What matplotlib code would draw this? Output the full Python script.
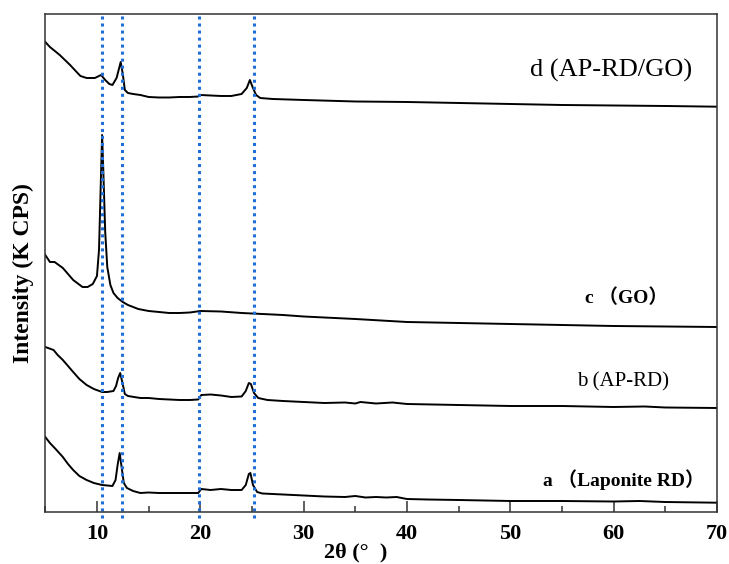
import matplotlib
matplotlib.use('Agg')
import matplotlib.pyplot as plt
from matplotlib.ticker import MultipleLocator

# 2theta (deg) and intensity (arb. units)
a_x = [5, 5.45, 6, 6.7, 7.2, 7.7, 8.3, 9, 9.7, 10.5, 11, 11.5, 11.8, 12.0, 12.2, 12.4, 12.6, 12.9,
       13.5, 14.2, 15, 16, 17, 18, 19, 19.8, 20.1, 21, 22, 23, 24, 24.4, 24.7, 24.85, 25.1, 25.5, 26, 28,
       30, 32, 34, 35, 36, 37, 38, 39, 40, 42, 45, 50, 55, 60, 62.5, 65, 70]
a_y = [75, 69, 63, 55, 48, 42, 36, 32, 29, 27, 26.5, 26, 32, 47, 59, 44, 29, 24,
       21, 19, 19.5, 19, 19, 19, 19, 19, 23, 22, 23, 22, 22, 27, 38, 39, 27, 20, 18.5, 17.5,
       16.5, 15.5, 15, 16, 14.5, 15, 14.5, 15, 13, 12.5, 12, 11, 11, 10.5, 11, 10, 9.3]

b_x = [5, 5.8, 6.2, 6.7, 7.2, 7.7, 8.3, 9, 9.7, 10.5, 11, 11.6, 11.85, 12.05, 12.25, 12.45, 12.7, 13,
       14.2, 15, 16, 17, 18, 19, 19.8, 20.1, 21, 22, 23, 24, 24.4, 24.7, 24.9, 25.2, 25.6, 26.5, 28, 30,
       32, 34, 35, 35.5, 37, 38.6, 40, 45, 50, 55, 60, 63, 65, 70]
b_y = [165, 162, 157, 152, 146, 140, 133, 127, 123, 120, 120, 121, 126, 134, 139, 130, 118, 116,
       114, 114, 113, 112.5, 112, 112, 112.5, 117, 117.5, 116.5, 115, 115.5, 121, 129, 128, 119, 114, 112, 111, 110,
       109, 109.5, 108.5, 110, 108.5, 109.5, 108, 107, 106, 106, 105, 105.5, 104.5, 104]

c_x = [5, 5.45, 5.9, 6.7, 7.2, 7.7, 8.6, 9.1, 9.6, 10.0, 10.2, 10.35, 10.5, 10.62, 10.8, 11.0, 11.3, 11.6,
       12, 12.5, 13, 14, 15, 16, 17, 18, 19, 20, 22, 24, 26, 28, 30, 35, 40, 45, 50, 55, 60, 65, 70]
c_y = [257, 250, 250, 244, 238, 232, 225, 225, 228, 236, 262, 320, 377, 340, 280, 245, 227, 219,
       214, 210, 207, 203, 201, 200, 199, 199, 199.5, 201, 200.5, 199, 198, 197, 195.5, 193, 190, 189, 188, 187, 186, 185.5, 185]

d_x = [5, 5.45, 6.4, 7.4, 8.4, 9, 9.8, 10.4, 10.8, 11.2, 11.5, 11.9, 12.1, 12.3, 12.5, 12.7,
       13, 13.5, 14.2, 15, 16, 17, 18, 19, 19.8, 20, 21, 22, 23, 24, 24.5, 24.8, 25.1, 25.4, 25.8, 27,
       30, 35, 40, 45, 50, 55, 60, 65, 70]
d_y = [470, 465, 457, 447, 436, 434, 434, 437, 432, 428, 427, 434, 442, 450, 438, 422,
       419, 418, 417, 415, 414.5, 414.5, 415, 415, 415.5, 417, 416.5, 416, 416, 418, 424, 432, 424, 417, 414, 413,
       412, 410.5, 410, 409, 408, 407, 406.5, 406, 405.3]

peak_lines = [10.45, 12.4, 19.85, 25.2]

labels = ['a \uff08Laponite RD\uff09', 'b (AP-RD)', 'c \uff08GO\uff09', 'd (AP-RD/GO)']

fig = plt.figure(figsize=(7.29, 5.64), dpi=100)
ax = fig.add_axes([0.0621, 0.0922, 0.9214, 0.883])

for xs, ys in [(a_x, a_y), (b_x, b_y), (c_x, c_y), (d_x, d_y)]:
    ax.plot(xs, ys, color='black', lw=1.4)

# dotted guide lines at the main reflections
ax.vlines(peak_lines, -6, 498, colors='#1f6fd6', linestyles=(0, (1, 1.3)), lw=2.2, clip_on=False)

ax.set_xlim(5, 70)
ax.set_ylim(0, 498)

ax.xaxis.set_major_locator(MultipleLocator(10))
ax.xaxis.set_minor_locator(MultipleLocator(5))
ax.tick_params(axis='x', which='major', direction='in', length=8, width=1.1, pad=9,
               labelsize=16, color='#333333')
ax.tick_params(axis='x', which='minor', direction='in', length=4, width=1.1, color='#333333')
ax.set_yticks([])
for lab in ax.get_xticklabels():
    lab.set_fontfamily('Liberation Serif')
    lab.set_fontweight('bold')
for sp in ax.spines.values():
    sp.set_linewidth(1.1)
    sp.set_color('#333333')

serif_cjk = ['Liberation Serif', 'Noto Sans CJK SC']
ax.text(53.2, 32, labels[0], family=serif_cjk, fontweight='bold', fontsize=14, va='center')
ax.text(56.5, 130, labels[1], family=serif_cjk, fontsize=15, va='center')
ax.text(57.2, 214, labels[2], family=serif_cjk, fontweight='bold', fontsize=14, va='center')
ax.text(51.9, 442, labels[3], family=serif_cjk, fontsize=19, va='center')

fig.text(23 / 729, 0.516, 'Intensity (K CPS)', rotation=90, ha='center', va='center',
         family='Liberation Serif', fontweight='bold', fontsize=17)
fig.text(356 / 729, 1 - 552 / 564, '2\u03b8 (\u00b0  )', ha='center', va='center',
         family='Liberation Serif', fontweight='bold', fontsize=16)

plt.savefig('out.png', dpi=100)
